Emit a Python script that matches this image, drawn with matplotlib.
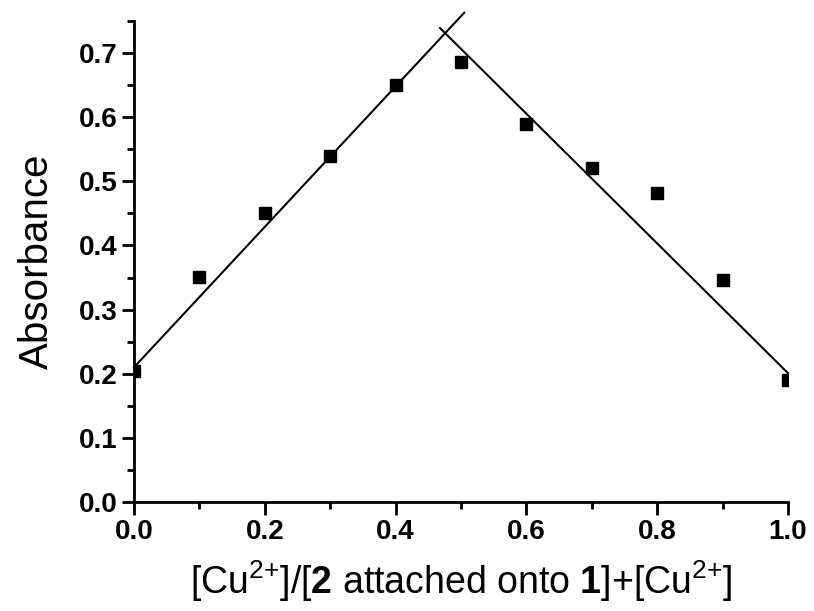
import matplotlib
matplotlib.use("Agg")
import matplotlib.pyplot as plt
from matplotlib.ticker import MultipleLocator

plt.rcParams['font.family'] = ['Liberation Sans', 'DejaVu Sans']
plt.rcParams['mathtext.fontset'] = 'custom'
plt.rcParams['mathtext.rm'] = 'Liberation Sans'
plt.rcParams['mathtext.bf'] = 'Liberation Sans:bold'

# Job plot data
mole_fraction = [0.0, 0.1, 0.2, 0.3, 0.4, 0.5, 0.6, 0.7, 0.8, 0.9, 1.0]
absorbance = [0.205, 0.351, 0.451, 0.540, 0.650, 0.686, 0.590, 0.521, 0.482, 0.346, 0.190]

# fitted lines (endpoints)
fit_up_x = [0.0, 0.505]
fit_up_y = [0.21, 0.763]
fit_down_x = [0.468, 1.0]
fit_down_y = [0.739, 0.201]

fig = plt.figure(figsize=(8.14, 6.11), dpi=100)
ax = fig.add_axes([0.1646, 0.1784, 0.8034, 0.7872])

ax.plot(fit_up_x, fit_up_y, color='black', lw=1.5, clip_on=False)
ax.plot(fit_down_x, fit_down_y, color='black', lw=1.5, clip_on=False)
ax.plot(mole_fraction, absorbance, 's', color='black', ms=8, clip_on=True)

ax.set_xlim(0, 1.0)
ax.set_ylim(0, 0.75)
ax.xaxis.set_major_locator(MultipleLocator(0.2))
ax.xaxis.set_minor_locator(MultipleLocator(0.1))
ax.yaxis.set_major_locator(MultipleLocator(0.1))
ax.yaxis.set_minor_locator(MultipleLocator(0.05))

ax.spines['top'].set_visible(False)
ax.spines['right'].set_visible(False)
for s in ['left', 'bottom']:
    ax.spines[s].set_linewidth(2)

ax.tick_params(which='major', direction='out', length=9, width=2, labelsize=20, pad=3)
ax.tick_params(which='minor', direction='out', length=5, width=2)
for lab in ax.get_xticklabels() + ax.get_yticklabels():
    lab.set_fontweight('bold')
ax.xaxis.set_major_formatter(plt.FormatStrFormatter('%.1f'))
ax.yaxis.set_major_formatter(plt.FormatStrFormatter('%.1f'))

ax.set_ylabel('Absorbance', fontsize=29, labelpad=16)
ax.set_xlabel(r'[Cu$^{2{+}}$]/[$\mathbf{2}$ attached onto $\mathbf{1}$]+[Cu$^{2{+}}$]', fontsize=27, labelpad=10)

fig.savefig('out.png', dpi=100)
